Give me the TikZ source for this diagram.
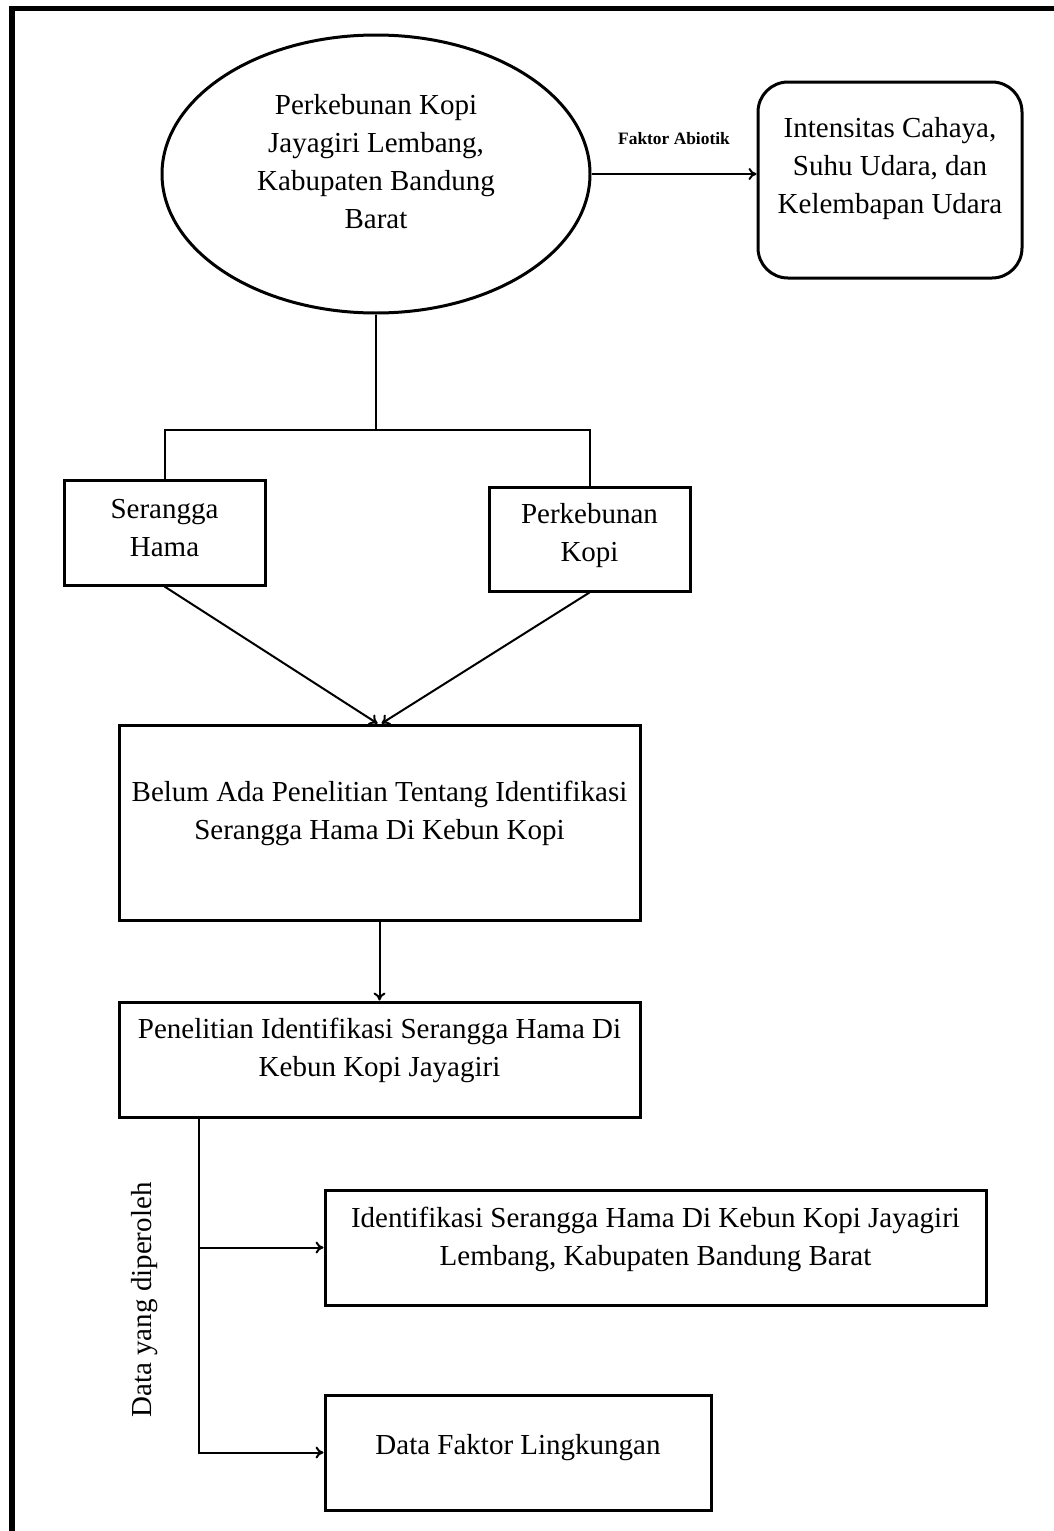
\documentclass[tikz,border=0pt]{standalone}
\usepackage{fontspec}
\setmainfont{Liberation Serif}
\usetikzlibrary{arrows.meta,shapes.geometric}

\begin{document}
\begin{tikzpicture}[x=0.5pt,y=-0.5pt,
  font=\fontsize{14.5}{19}\selectfont,
  box/.style={draw, line width=1.5pt, align=center, inner sep=0pt},
  lift/.style={text depth=#1},
  link/.style={line width=1pt},
  arr/.style={line width=1pt, -{To[length=4pt,width=6pt]}}]
\useasboundingbox (0,0) rectangle (1054,1531);
% frame, top and left edge only
\fill[black] (9,6) rectangle (1054,11);
\fill[black] (9,6) rectangle (15,1531);

\node[box, ellipse, lift=13pt, minimum width=214pt, minimum height=139pt] (lokasi) at (376,174)
  {Perkebunan Kopi\\Jayagiri Lembang,\\Kabupaten Bandung\\Barat};
\node[box, lift=15pt, rounded corners=15pt, minimum width=132pt, minimum height=98pt] (abiotik) at (890,180)
  {Intensitas Cahaya,\\Suhu Udara, dan\\Kelembapan Udara};
\node[box, lift=5pt, minimum width=100.5pt, minimum height=52.5pt] (hama) at (164.5,532.5) {Serangga\\Hama};
\node[box, lift=7pt, minimum width=100.5pt, minimum height=52pt] (kebun) at (589.5,539) {Perkebunan\\Kopi};
\node[box, lift=12pt, minimum width=260.5pt, minimum height=97.5pt] (belum) at (379.5,822.5)
  {Belum Ada Penelitian Tentang Identifikasi\\Serangga Hama Di Kebun Kopi};
\node[box, lift=12pt, minimum width=260.5pt, minimum height=57.5pt] (teliti) at (379.5,1059.5)
  {Penelitian Identifikasi Serangga Hama Di\\Kebun Kopi Jayagiri};
\node[box, lift=11pt, minimum width=330.5pt, minimum height=57.5pt] (hasil) at (655.5,1247.5)
  {Identifikasi Serangga Hama Di Kebun Kopi Jayagiri\\Lembang, Kabupaten Bandung Barat};
\node[box, lift=8pt, minimum width=193pt, minimum height=57.5pt] (lingkungan) at (518,1452.5)
  {Data Faktor Lingkungan};
\node[rotate=90] (dataket) at (145,1300) {Data yang diperoleh};

% connectors
\draw[arr] (lokasi.east) -- (lokasi.east -| abiotik.west)
  node[midway, above=11pt, font=\fontsize{8.7}{10}\selectfont\bfseries] (faktor) {Faktor Abiotik};
\coordinate (cabang) at (376,430);
\draw[link] (lokasi.south) -- (cabang);
\draw[link] (hama.north) |- (cabang) -| (kebun.north);
\draw[arr] (hama.south) -- ([xshift=-1pt]belum.north);
\draw[arr] (kebun.south) -- ([xshift=1pt]belum.north);
\draw[arr] (belum) -- (teliti);
\coordinate (data) at ([xshift=40.5pt]teliti.south west);
\draw[arr] (data) |- (hasil.west);
\draw[arr] (data) |- (lingkungan.west);
\end{tikzpicture}
\end{document}
